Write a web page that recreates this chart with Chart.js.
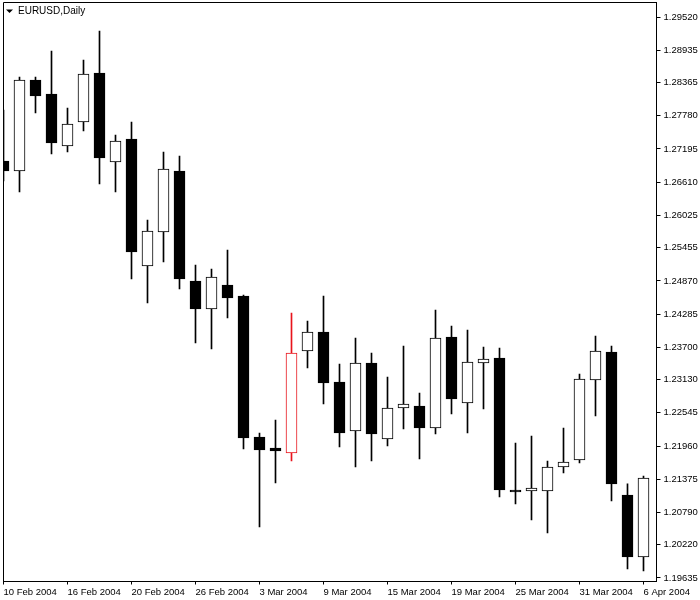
<!DOCTYPE html>
<html>
<head>
<meta charset="utf-8">
<script src="https://cdn.jsdelivr.net/npm/chart.js@4"></script>
<style>
  html, body { margin: 0; padding: 0; background: #fff; }
</style>
</head>
<body>
<canvas id="candleChart" width="700" height="600"></canvas>
<script>
// chart caption
var symbolTitle = 'EURUSD,Daily';

// trading days
var dates = [
  '10 Feb 2004', '11 Feb 2004', '12 Feb 2004', '13 Feb 2004', '16 Feb 2004', '17 Feb 2004', '18 Feb 2004',
  '19 Feb 2004', '20 Feb 2004', '23 Feb 2004', '24 Feb 2004', '25 Feb 2004', '26 Feb 2004', '27 Feb 2004',
  '1 Mar 2004', '2 Mar 2004', '3 Mar 2004', '4 Mar 2004', '5 Mar 2004', '8 Mar 2004', '9 Mar 2004',
  '10 Mar 2004', '11 Mar 2004', '12 Mar 2004', '15 Mar 2004', '16 Mar 2004', '17 Mar 2004', '18 Mar 2004',
  '19 Mar 2004', '22 Mar 2004', '23 Mar 2004', '24 Mar 2004', '25 Mar 2004', '26 Mar 2004', '29 Mar 2004',
  '30 Mar 2004', '31 Mar 2004', '1 Apr 2004', '2 Apr 2004', '5 Apr 2004', '6 Apr 2004'
];

// OHLC
var open = [
  1.26983, 1.26807, 1.28410, 1.28163, 1.27247, 1.27670, 1.28533, 1.26965, 1.27370, 1.25133, 1.25732,
  1.26807, 1.24868, 1.24375, 1.24798, 1.24604, 1.22120, 1.21926, 1.21838, 1.23635, 1.23970,
  1.23089, 1.22225, 1.23424, 1.22084, 1.22631, 1.22666, 1.22278, 1.23882, 1.22719, 1.23424,
  1.23512, 1.21186, 1.21168, 1.21168, 1.21591, 1.21714, 1.23124, 1.23617, 1.21098, 1.20005
];
var high = [
  1.27881, 1.28463, 1.28463, 1.28921, 1.27917, 1.28762, 1.29273, 1.27441, 1.27670, 1.25943, 1.27141,
  1.27071, 1.25150, 1.25080, 1.25415, 1.24622, 1.22190, 1.22419, 1.24305, 1.24164, 1.24604,
  1.23406, 1.23864, 1.23600, 1.23177, 1.23723, 1.22895, 1.24357, 1.24075, 1.24005, 1.23705,
  1.23688, 1.22014, 1.22137, 1.21697, 1.22278, 1.23230, 1.23899, 1.23723, 1.21292, 1.21432
];
var low = [
  1.26630, 1.26437, 1.27829, 1.27106, 1.27141, 1.27511, 1.26577, 1.26437, 1.24904, 1.24481, 1.25203,
  1.24727, 1.23776, 1.23670, 1.24216, 1.21908, 1.20534, 1.21309, 1.21697, 1.23335, 1.22701,
  1.21943, 1.21591, 1.21697, 1.21961, 1.22261, 1.21732, 1.22173, 1.22525, 1.22190, 1.22613,
  1.21062, 1.20939, 1.20657, 1.20428, 1.21485, 1.21662, 1.22490, 1.20992, 1.19794, 1.19758
];
var close = [
  1.26807, 1.28410, 1.28128, 1.27300, 1.27635, 1.28516, 1.27036, 1.27335, 1.25379, 1.25749, 1.26842,
  1.24904, 1.24375, 1.24939, 1.24569, 1.22102, 1.21891, 1.21873, 1.23600, 1.23970, 1.23071,
  1.22190, 1.23424, 1.22173, 1.22631, 1.22701, 1.22278, 1.23864, 1.22789, 1.23441, 1.23494,
  1.21186, 1.21151, 1.21221, 1.21591, 1.21679, 1.23142, 1.23635, 1.21292, 1.20005, 1.21397
];

// axis labels
var priceTicks = [
  1.29520, 1.28935, 1.28365, 1.27780, 1.27195, 1.26610, 1.26025, 1.25455, 1.24870,
  1.24285, 1.23700, 1.23130, 1.22545, 1.21960, 1.21375, 1.20790, 1.20220, 1.19635
];
var dateTicks = [
  '10 Feb 2004', '16 Feb 2004', '20 Feb 2004', '26 Feb 2004', '3 Mar 2004', '9 Mar 2004',
  '15 Mar 2004', '19 Mar 2004', '25 Mar 2004', '31 Mar 2004', '6 Apr 2004'
];

// visible ranges
var yMin = 1.19573, yMax = 1.29776;
var xMax = 40.8125;

// candle that is drawn in red
var selected = 18;
var red = '#e8141c';

Chart.defaults.font.family = '"Liberation Sans", Arial, sans-serif';
Chart.defaults.font.size = 9.5;
Chart.defaults.color = '#000';

var bodyData = dates.map(function (d, i) {
  return { x: i, y: [Math.min(open[i], close[i]), Math.max(open[i], close[i])] };
});
var wickData = dates.map(function (d, i) {
  return { x: i, y: [low[i], high[i]] };
});

// frame + caption
var framePlugin = {
  id: 'frame',
  afterDraw: function (chart) {
    var ctx = chart.ctx;
    var a = chart.chartArea;
    ctx.save();
    ctx.strokeStyle = '#000';
    ctx.lineWidth = 1;
    ctx.beginPath();
    ctx.moveTo(Math.floor(a.left) + 0.5, Math.floor(a.bottom) + 0.5);
    ctx.lineTo(Math.floor(a.left) + 0.5, Math.floor(a.top) + 0.5);
    ctx.lineTo(Math.floor(a.right) + 0.5, Math.floor(a.top) + 0.5);
    ctx.stroke();

    // small arrow before the symbol name
    ctx.fillStyle = '#000';
    ctx.beginPath();
    ctx.moveTo(6, 9.5);
    ctx.lineTo(13, 9.5);
    ctx.lineTo(9.5, 13);
    ctx.closePath();
    ctx.fill();

    ctx.font = '10px "Liberation Sans", Arial, sans-serif';
    ctx.textBaseline = 'middle';
    ctx.textAlign = 'left';
    ctx.fillText(symbolTitle, 18, 11);
    ctx.restore();
  }
};

var ctx = document.getElementById('candleChart');
var candleChart = new Chart(ctx, {
  type: 'bar',
  data: {
    datasets: [
      {
        // bodies (drawn on top)
        data: bodyData,
        grouped: false,
        order: 0,
        barThickness: 11,
        borderWidth: 1,
        borderSkipped: false,
        backgroundColor: dates.map(function (d, i) { return close[i] >= open[i] ? '#fff' : '#000'; }),
        borderColor: dates.map(function (d, i) { return i === selected ? red : '#000'; })
      },
      {
        // high-low wicks
        data: wickData,
        grouped: false,
        order: 1,
        barThickness: 1,
        borderWidth: 0,
        backgroundColor: dates.map(function (d, i) { return i === selected ? red : '#000'; })
      }
    ]
  },
  options: {
    responsive: false,
    animation: false,
    layout: { padding: { left: 3.5, top: 2.5, right: 0, bottom: 0 } },
    plugins: {
      legend: { display: false },
      tooltip: { enabled: false }
    },
    scales: {
      x: {
        type: 'linear',
        min: 0,
        max: xMax,
        offset: false,
        afterBuildTicks: function (s) {
          s.ticks = dateTicks.map(function (t) { return { value: dates.indexOf(t) }; });
        },
        afterFit: function (s) {
          s.height = 18.5;
          s.paddingLeft = 0;
          s.paddingRight = 0;
        },
        grid: { offset: false, drawOnChartArea: false, drawTicks: true, tickLength: 3, color: '#000' },
        border: { display: true, color: '#000', width: 1 },
        ticks: {
          autoSkip: false,
          maxRotation: 0,
          minRotation: 0,
          align: 'start',
          padding: 2,
          callback: function (v) { return dates[v]; }
        }
      },
      y: {
        position: 'right',
        min: yMin,
        max: yMax,
        afterBuildTicks: function (s) {
          s.ticks = priceTicks.map(function (v) { return { value: v }; });
        },
        afterFit: function (s) {
          s.width = 43.5;
          s.paddingTop = 0;
          s.paddingBottom = 0;
        },
        grid: { drawOnChartArea: false, drawTicks: true, tickLength: 4, color: '#000' },
        border: { display: true, color: '#000', width: 1 },
        ticks: {
          padding: 3,
          callback: function (v) { return v.toFixed(5); }
        }
      }
    }
  },
  plugins: [framePlugin]
});
</script>
</body>
</html>
